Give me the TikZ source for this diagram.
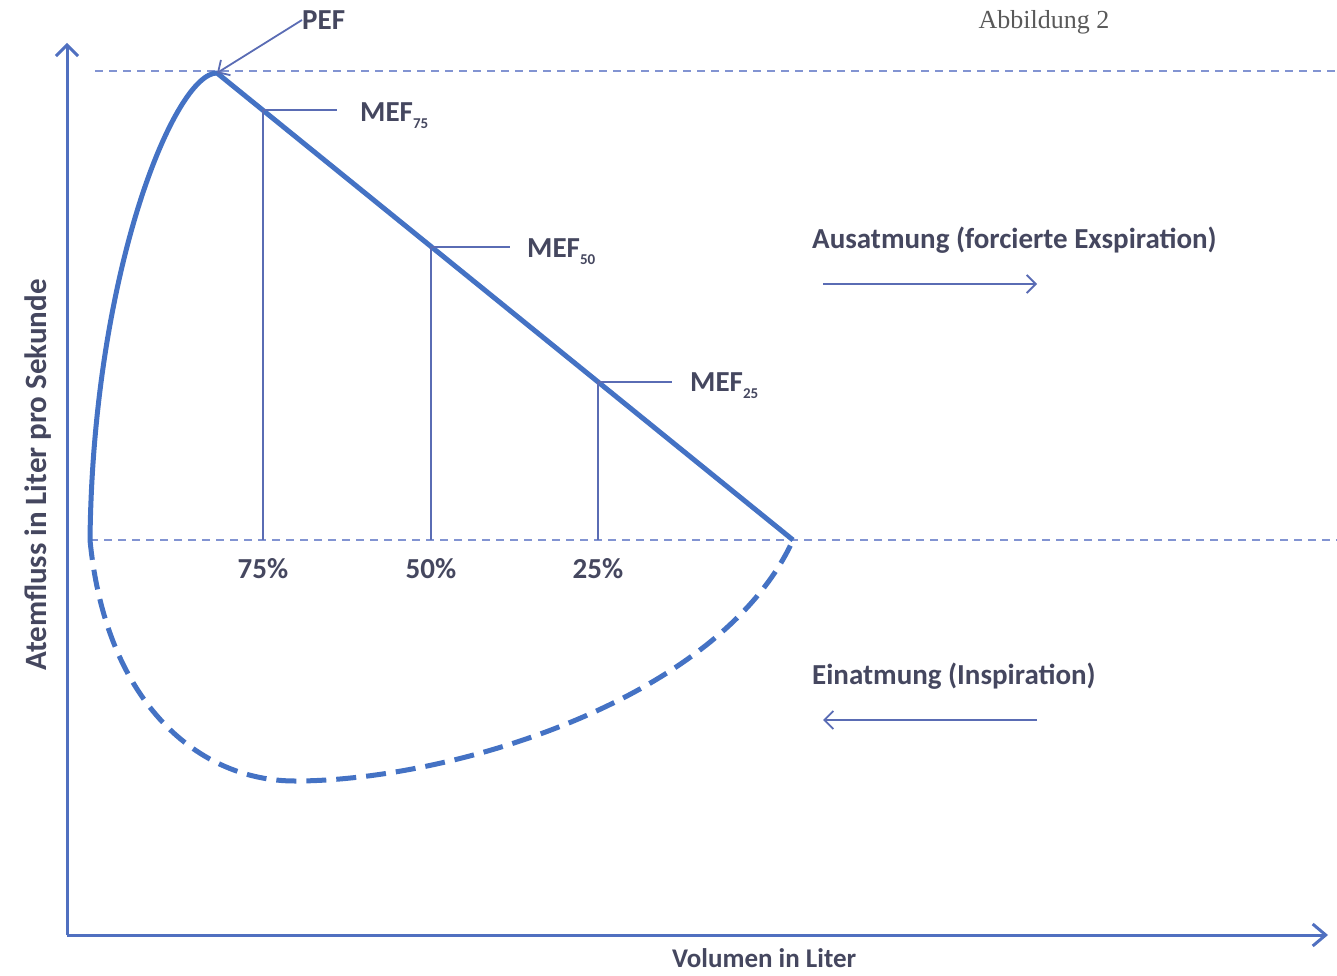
\documentclass[tikz,border=0pt]{standalone}
\usepackage{fontspec}
\setmainfont{Carlito}
\newfontfamily\abbfamily{Liberation Serif}
\usepackage{xcolor}
\usepackage{tikz}
\usetikzlibrary{positioning,calc,arrows.meta}
\definecolor{curveblue}{HTML}{4472C4}
\definecolor{axisblue}{HTML}{5070C0}
\definecolor{guideblue}{HTML}{8294D2}
\definecolor{lineblue}{HTML}{5A6CB4}
\definecolor{txtgray}{HTML}{45475F}
\newcommand{\lblfont}{\fontsize{29}{34}\selectfont\bfseries}
\newcommand{\mef}[1]{MEF\raisebox{-.25em}{\fontsize{15}{15}\selectfont #1}}

\begin{document}
\begin{tikzpicture}[x=1pt,y=-1pt,line join=round,
                    axis/.style={draw=axisblue,line width=3pt},
                    curve/.style={draw=curveblue,line width=5pt},
                    guide/.style={draw=guideblue,line width=2pt,dash pattern=on 8pt off 6pt},
                    tickline/.style={draw=lineblue,line width=1.8pt},
                    lbl/.style={text=txtgray,font=\lblfont,inner sep=0pt}]
\useasboundingbox (0,0) rectangle (1337,976);
\coordinate (O) at (67,935);
\coordinate (ytip) at (67,43);
\coordinate (xtip) at (1328,935);
\coordinate (start) at (90,540);
\coordinate (pef) at (217,73);
\coordinate (rv) at (793,540);
\coordinate (top0) at (95,71);
\coordinate (top1) at (1337,71);
\coordinate (zero1) at (1337,540);
\coordinate (m75) at ($(pef)!0.08!(rv)$);
\coordinate (m50) at ($(pef)!0.372!(rv)$);
\coordinate (m25) at ($(pef)!0.662!(rv)$);

\draw[axis,-{Straight Barb[length=11pt,width=22pt]}] (O) -- (ytip);
\draw[axis,-{Straight Barb[length=13pt,width=22pt]}] (O) -- (xtip);
\draw[guide] (top0) -- (top1);
\draw[guide] (start) -- (zero1);

\draw[curve] (start) .. controls (93,270) and (175,73) .. (pef) -- (rv);
\draw[curve,dash pattern=on 20pt off 10pt] (start) .. controls (106,705) and (200,781) .. (295,781)
      .. controls (450,781) and (720,700) .. (rv);

\node[lbl,anchor=west] (l75) at (360,116) {\mef{75}};
\node[lbl,anchor=west] (l50) at (527,252) {\mef{50}};
\node[lbl,anchor=west] (l25) at (690,386) {\mef{25}};
\draw[tickline,shorten >=23pt] (m75) -- (m75 -| l75.west);
\draw[tickline,shorten >=17pt] (m50) -- (m50 -| l50.west);
\draw[tickline,shorten >=18pt] (m25) -- (m25 -| l25.west);
\draw[tickline] (m75) -- (m75 |- start);
\draw[tickline] (m50) -- (m50 |- start);
\draw[tickline] (m25) -- (m25 |- start);
\node[lbl] (p75) at (263,569) {75\%};
\node[lbl] (p50) at (431,569) {50\%};
\node[lbl] (p25) at (598,569) {25\%};

\node[lbl,anchor=west] (pefl) at (302,20) {PEF};
\draw[tickline,-{Straight Barb[length=9pt,width=18pt]}] (pefl.west) -- (pef);

\node[lbl,anchor=west] (aus) at (812,240) {Ausatmung (forcierte Exspiration)};
\coordinate (aus0) at (823,284);
\coordinate (aus1) at (1037,284);
\draw[tickline,-{Straight Barb[length=9pt,width=18pt]}] (aus0) -- (aus1);
\node[lbl,anchor=west] (ein) at (812,676) {Einatmung (Inspiration)};
\coordinate (ein0) at (823,720);
\coordinate (ein1) at (1037,720);
\draw[tickline,-{Straight Barb[length=9pt,width=18pt]}] (ein1) -- (ein0);

\node[lbl,rotate=90,font=\fontsize{31}{36}\selectfont\bfseries] (ylab) at (38,475) {Atemfluss in Liter pro Sekunde};
\node[lbl,anchor=west,font=\fontsize{27}{32}\selectfont\bfseries] (xlab) at (672,958) {Volumen in Liter};
\node[text=black!65,font=\abbfamily\fontsize{26}{30}\selectfont,inner sep=0pt] (abb) at (1044,22) {Abbildung 2};
\end{tikzpicture}
\end{document}
